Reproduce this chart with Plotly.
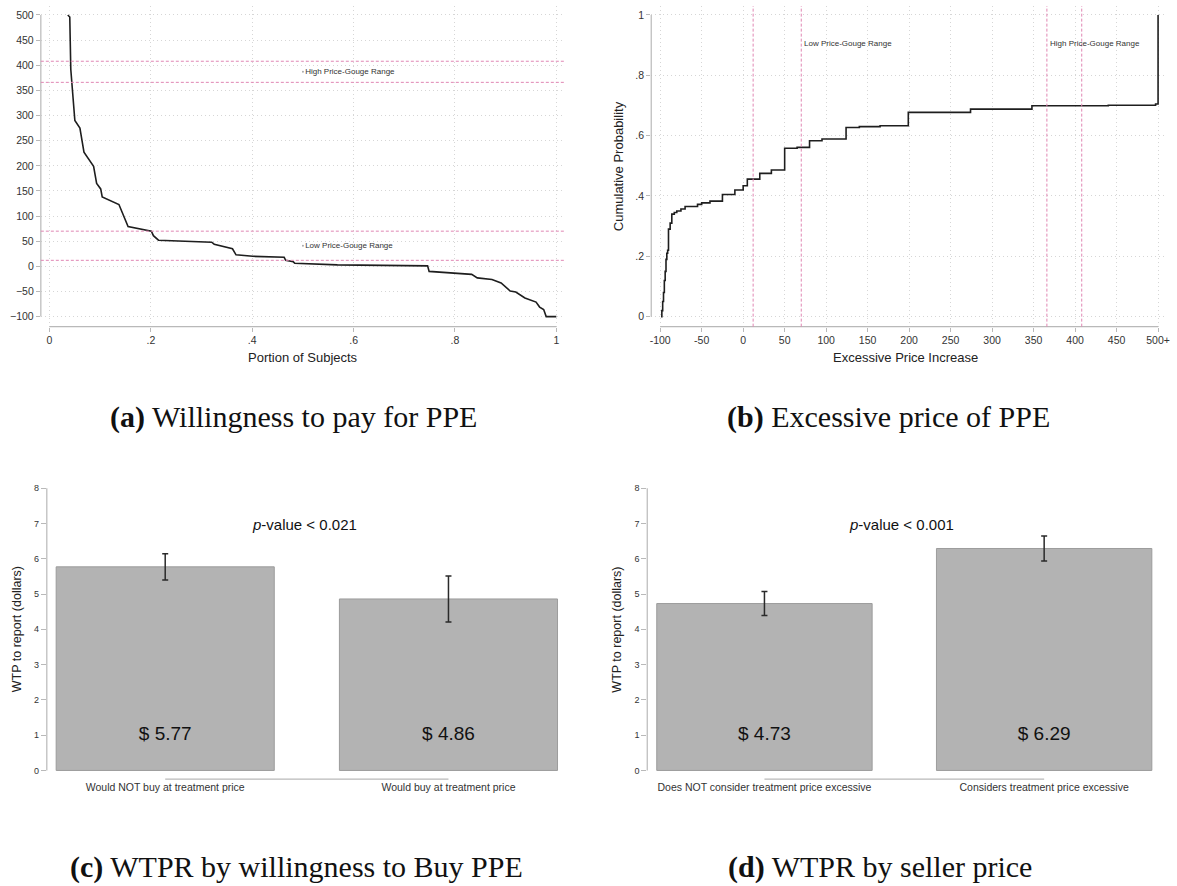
import plotly.graph_objects as go

W, H = 1177, 886
SANS = "Liberation Sans, Arial, sans-serif"
SERIF = "Liberation Serif, Times New Roman, serif"
TXT = "#333333"
AX = "#b9b9b9"
GRID = "#d6d6d6"
PINK = "#e086b3"

# ---------------- data ----------------
# (a) willingness to pay (sorted) vs portion of subjects
wtp_portion = [0.036, 0.040, 0.042, 0.045, 0.050, 0.060, 0.068, 0.087, 0.093, 0.101, 0.104,
               0.137, 0.155, 0.201, 0.205, 0.215, 0.320, 0.325, 0.361, 0.368, 0.401, 0.463,
               0.466, 0.481, 0.484, 0.568, 0.746, 0.749, 0.833, 0.844, 0.873, 0.891, 0.898,
               0.909, 0.920, 0.938, 0.960, 0.967, 0.975, 0.980, 1.0]
wtp_value = [500, 496, 392, 349, 290, 275, 227, 199, 165, 154, 138, 123, 79, 70, 61, 52, 48,
             44, 35, 23, 20, 18, 12, 9, 6, 3, 1, -10, -16, -23, -26, -33, -40, -49, -51, -63,
             -71, -81, -86, -100, -100]

# (b) cumulative distribution of excessive price increase
ecdf_x = [-99, -98, -97, -96, -95, -94, -93, -92, -91, -90, -88, -86, -83, -80, -75, -70, -55,
          -50, -40, -25, -10, 0, 5, 20, 34, 50, 65, 80, 95, 124, 140, 165, 199, 274, 348, 440,
          497, 500]
ecdf_y = [0.0, 0.02, 0.05, 0.08, 0.12, 0.15, 0.19, 0.21, 0.22, 0.29, 0.31, 0.34, 0.345, 0.35,
          0.357, 0.365, 0.372, 0.377, 0.383, 0.405, 0.42, 0.434, 0.456, 0.475, 0.486, 0.558,
          0.561, 0.583, 0.589, 0.627, 0.630, 0.633, 0.677, 0.688, 0.699, 0.701, 0.705, 1.0]

# price-gouge range bounds
low_range = [12, 70]
high_range = [366, 408]

# (c) WTPR by willingness to buy
c_labels = ["Would NOT buy at treatment price", "Would buy at treatment price"]
c_means = [5.77, 4.86]
c_err = [0.37, 0.65]
c_pval = "0.021"

# (d) WTPR by seller price
d_labels = ["Does NOT consider treatment price excessive", "Considers treatment price excessive"]
d_means = [4.73, 6.29]
d_err = [0.34, 0.355]
d_pval = "0.001"

a_yticks = list(range(-100, 501, 50))
a_xticks = [0, 0.2, 0.4, 0.6, 0.8, 1]
a_xticktext = ["0", ".2", ".4", ".6", ".8", "1"]
b_xticks = list(range(-100, 501, 50))
b_xticktext = [str(v) for v in b_xticks[:-1]] + ["500+"]
b_yticks = [0, 0.2, 0.4, 0.6, 0.8, 1]
b_yticktext = ["0", ".2", ".4", ".6", ".8", "1"]
bar_yticks = list(range(0, 9))

captions = [("a", "Willingness to pay for PPE"), ("b", "Excessive price of PPE"),
            ("c", "WTPR by willingness to Buy PPE"), ("d", "WTPR by seller price")]


def fx(p):
    return p / W


def fy(p):
    return 1 - p / H


fig = go.Figure()

# (a)
fig.add_trace(go.Scatter(x=wtp_portion, y=wtp_value, mode="lines", xaxis="x", yaxis="y",
                         line=dict(color="#1e1e1e", width=1.6), hoverinfo="skip"))
fig.add_trace(go.Scatter(x=[0.5, 0.5], y=[sum(high_range) / 2, sum(low_range) / 2],
                         mode="markers+text", xaxis="x", yaxis="y",
                         text=["High Price-Gouge Range", "Low Price-Gouge Range"],
                         textposition="middle right",
                         textfont=dict(family=SANS, size=8, color=TXT),
                         marker=dict(size=2, color="#aaaaaa"), hoverinfo="skip"))
# (b)
fig.add_trace(go.Scatter(x=ecdf_x, y=ecdf_y, mode="lines", xaxis="x2", yaxis="y2",
                         line=dict(color="#1e1e1e", width=1.6, shape="hv"), hoverinfo="skip"))

# (c), (d) bars
for xa, ya, means, errs in [("x3", "y3", c_means, c_err), ("x4", "y4", d_means, d_err)]:
    fig.add_trace(go.Bar(x=[0, 1], y=means, width=0.77, xaxis=xa, yaxis=ya,
                         marker=dict(color="#b3b3b3", line=dict(color="#9c9c9c", width=1)),
                         error_y=dict(type="data", array=errs, visible=True, color="#2a2a2a",
                                      thickness=1.5, width=3),
                         hoverinfo="skip"))
    fig.add_trace(go.Scatter(x=[0, 1], y=[1, 1], mode="text", xaxis=xa, yaxis=ya,
                             text=[f"$ {m:.2f}" for m in means],
                             textfont=dict(family=SANS, size=19, color="#111111"),
                             hoverinfo="skip"))

top_dom = [fy(326), fy(5)]
bot_dom = [fy(779), fy(484)]

tickfont = dict(family=SANS, size=10.5, color=TXT)
common = dict(showline=False, zeroline=False, ticks="outside", ticklen=4, tickcolor=AX,
              tickwidth=1, tickfont=tickfont)
grid = dict(showgrid=True, gridcolor=GRID, griddash="1px,3px", gridwidth=1)

fig.update_layout(
    width=W, height=H, margin=dict(l=0, r=0, t=0, b=0),
    paper_bgcolor="white", plot_bgcolor="white", showlegend=False,
    xaxis=dict(domain=[fx(39), fx(565)], range=[-0.0171, 1.0163], anchor="y",
               tickvals=a_xticks, ticktext=a_xticktext, **grid, **common),
    yaxis=dict(domain=top_dom, range=[-119.9, 517.9], anchor="x",
               tickvals=a_yticks, **grid, **common),
    xaxis2=dict(domain=[fx(652), fx(1170)], range=[-110.8, 510.8], anchor="y2",
                tickvals=b_xticks, ticktext=b_xticktext, **grid, **common),
    yaxis2=dict(domain=top_dom, range=[-0.0331, 1.0298], anchor="x2",
                tickvals=b_yticks, ticktext=b_yticktext, **grid, **common),
    xaxis3=dict(domain=[fx(45), fx(565)], range=[-0.418, 1.41], anchor="y3",
                tickvals=[0, 1], ticktext=c_labels, showgrid=False, zeroline=False,
                showline=False, ticks="", tickfont=tickfont),
    yaxis3=dict(domain=bot_dom, range=[-0.246, 8.105], anchor="x3", tickvals=bar_yticks,
                showgrid=False, showline=False, zeroline=False, ticks="outside", ticklen=5,
                tickcolor=AX, tickfont=dict(family=SANS, size=9, color=TXT)),
    xaxis4=dict(domain=[fx(648), fx(1165)], range=[-0.419, 1.4215], anchor="y4",
                tickvals=[0, 1], ticktext=d_labels, showgrid=False, zeroline=False,
                showline=False, ticks="", tickfont=tickfont),
    yaxis4=dict(domain=bot_dom, range=[-0.246, 8.105], anchor="x4", tickvals=bar_yticks,
                showgrid=False, showline=False, zeroline=False, ticks="outside", ticklen=5,
                tickcolor=AX, tickfont=dict(family=SANS, size=9, color=TXT)),
)

shapes = []
# axis lines (Stata style, spanning the data range only)
shapes.append(dict(type="line", xref="x domain", yref="y", x0=0, x1=0, y0=-100, y1=500,
                   line=dict(color=AX, width=1.2)))
shapes.append(dict(type="line", xref="x", yref="y domain", x0=0, x1=1, y0=0, y1=0,
                   line=dict(color=AX, width=1.2)))
shapes.append(dict(type="line", xref="x2 domain", yref="y2", x0=0, x1=0, y0=0, y1=1,
                   line=dict(color=AX, width=1.2)))
shapes.append(dict(type="line", xref="x2", yref="y2 domain", x0=-100, x1=500, y0=0, y1=0,
                   line=dict(color=AX, width=1.2)))
for xa, ya in [("x3", "y3"), ("x4", "y4")]:
    shapes.append(dict(type="line", xref=xa + " domain", yref=ya, x0=0, x1=0, y0=0, y1=8,
                       line=dict(color=AX, width=1.2)))
    shapes.append(dict(type="line", xref=xa, yref=ya + " domain", x0=0, x1=1, y0=0, y1=0,
                       line=dict(color=AX, width=1.2)))
# price-gouge ranges
for v in low_range + high_range:
    shapes.append(dict(type="line", xref="x domain", yref="y", x0=0, x1=1, y0=v, y1=v,
                       line=dict(color=PINK, width=1, dash="3px,2px")))
    shapes.append(dict(type="line", xref="x2", yref="y2 domain", x0=v, x1=v, y0=0, y1=1,
                       line=dict(color=PINK, width=1, dash="3px,2px")))
fig.update_layout(shapes=shapes)

ann = []
# axis titles
ann.append(dict(text="Portion of Subjects", xref="paper", yref="paper", x=fx(302), y=fy(357),
                xanchor="center", yanchor="middle", showarrow=False,
                font=dict(family=SANS, size=13, color="#222")))
ann.append(dict(text="Excessive Price Increase", xref="paper", yref="paper", x=fx(907),
                y=fy(357), xanchor="center", yanchor="middle", showarrow=False,
                font=dict(family=SANS, size=13, color="#222")))
ann.append(dict(text="Cumulative Probability", xref="paper", yref="paper", x=fx(619),
                y=fy(165), xanchor="center", yanchor="middle", textangle=-90, showarrow=False,
                font=dict(family=SANS, size=13, color="#222")))
for xp in (15, 618):
    ann.append(dict(text="WTP to report (dollars)", xref="paper", yref="paper", x=fx(xp),
                    y=fy(629), xanchor="center", yanchor="middle", textangle=-90,
                    showarrow=False, font=dict(family=SANS, size=12.5, color="#222")))
# range labels in (b)
ann.append(dict(text="Low Price-Gouge Range", xref="x2", yref="y2", x=low_range[1], y=0.906,
                xanchor="left", yanchor="middle", xshift=1, showarrow=False,
                font=dict(family=SANS, size=8, color=TXT)))
ann.append(dict(text="High Price-Gouge Range", xref="x2", yref="y2", x=high_range[0], y=0.906,
                xanchor="left", yanchor="middle", xshift=1, showarrow=False,
                font=dict(family=SANS, size=8, color=TXT)))
# p-values
for xa, ya, pv in [("x3", "y3", c_pval), ("x4", "y4", d_pval)]:
    ann.append(dict(text=f"<i>p</i>-value &lt; {pv}", xref=xa, yref=ya, x=0.49, y=6.96,
                    xanchor="center", yanchor="middle", showarrow=False,
                    font=dict(family=SANS, size=15, color="#111")))
# captions
cap_pos = [(293, 416), (890, 416), (296, 867), (882, 867)]
for (lab, txt), (cx, cy) in zip(captions, cap_pos):
    ann.append(dict(text=f"<b>({lab})</b> {txt}", xref="paper", yref="paper", x=fx(cx),
                    y=fy(cy), xanchor="center", yanchor="middle", showarrow=False,
                    font=dict(family=SERIF, size=30, color="#111")))
fig.update_layout(annotations=ann)

fig.write_html("out.html")
